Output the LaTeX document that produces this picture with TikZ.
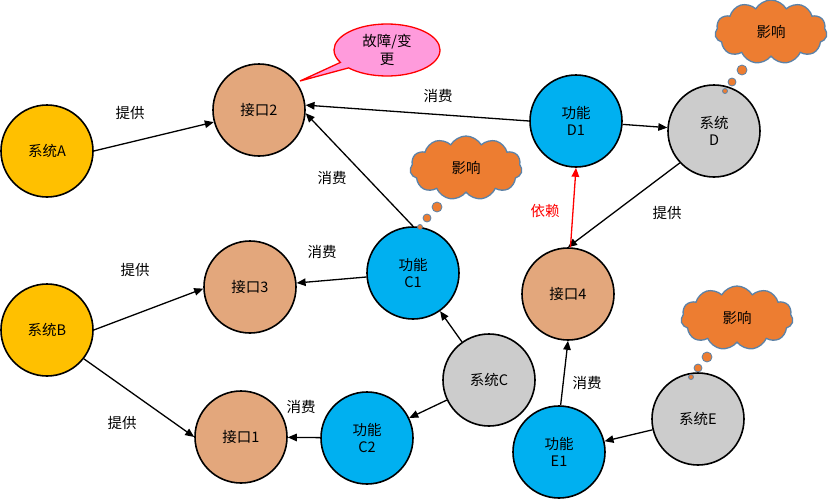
\documentclass[tikz,border=0pt]{standalone}
\usepackage{fontspec}
\setmainfont{Noto Sans CJK SC}
\usetikzlibrary{arrows.meta,shapes.symbols,shapes.callouts}
\definecolor{sysY}{HTML}{FFC000}
\definecolor{sysG}{HTML}{CCCCCC}
\definecolor{funB}{HTML}{00B0F0}
\definecolor{ifc}{HTML}{E3A77C}
\definecolor{cloudO}{HTML}{ED7D31}
\definecolor{cloudE}{HTML}{5B82A8}
\definecolor{pinkF}{HTML}{FF9BDC}
\tikzset{
  base/.style={circle,draw=black,line width=1.6pt,minimum size=92pt,inner sep=0pt,align=center,font=\fontsize{14.5}{17.5}\selectfont},
  sysy/.style={base,fill=sysY},
  sysg/.style={base,fill=sysG},
  func/.style={base,fill=funB},
  iface/.style={base,fill=ifc},
  lbl/.style={font=\fontsize{14.5}{17.5}\selectfont,inner sep=0pt},
  conn/.style={line width=1.3pt,-{Triangle[length=9pt,width=7.5pt]}},
  thought/.style={cloud,cloud puffs=11,cloud puff arc=120,cloud ignores aspect,draw=cloudE,fill=cloudO,line width=1.3pt,minimum width=112pt,minimum height=64pt,inner sep=0pt,font=\fontsize{14.5}{17.5}\selectfont},
  bub/.style={circle,draw=cloudE,fill=cloudO,line width=0.8pt,inner sep=0pt}
}
\begin{document}
\begin{tikzpicture}[x=1pt,y=-1pt]
\useasboundingbox (0,0) rectangle (830,499);
% nodes
\node[sysy] (sa) at (47,151) {系统A};
\node[sysy] (sb) at (47,330) {系统B};
\node[iface] (j2) at (259,110) {接口2};
\node[iface] (j3) at (250,287) {接口3};
\node[iface] (j1) at (241,437) {接口1};
\node[iface] (j4) at (568,294) {接口4};
\node[func] (d1) at (576,121) {功能\\D1};
\node[func] (c1) at (413,273) {功能\\C1};
\node[func] (c2) at (367,438) {功能\\C2};
\node[func] (e1) at (559,452) {功能\\E1};
\node[sysg] (sd) at (714,131) {系统\\D};
\node[sysg] (sc) at (489,380) {系统C};
\node[sysg] (se) at (698,419) {系统E};
% callout
\node[ellipse callout,draw=red,line width=1.3pt,fill=pinkF,minimum width=106pt,minimum height=52pt,inner sep=0pt,align=center,
  font=\fontsize{14.5}{17.5}\selectfont,callout absolute pointer={(300,81)}] (fault) at (387,50) {故障/变\\更};
% clouds
\node[thought] (cd) at (771,32) {影响};
\node[thought] (cc) at (466,168) {影响};
\node[thought] (ce) at (737,318) {影响};
\node[bub,minimum size=10pt] (bd1) at (742,70) {};
\node[bub,minimum size=8pt] (bd2) at (732,82) {};
\node[bub,minimum size=5pt] (bd3) at (725,91) {};
\node[bub,minimum size=10pt] (bc1) at (437,207) {};
\node[bub,minimum size=8pt] (bc2) at (427,218) {};
\node[bub,minimum size=5pt] (bc3) at (420,227) {};
\node[bub,minimum size=10pt] (be1) at (707,357) {};
\node[bub,minimum size=8pt] (be2) at (698,368) {};
\node[bub,minimum size=5pt] (be3) at (691,377) {};
% connectors
\draw[conn] (sa.east) -- (j2.195);
\draw[conn] (sb.east) -- (j3.182);
\draw[conn] (sb.-38) -- (j1.west);
\draw[conn] (d1.west) -- (j2.6);
\draw[conn] (c1.north) -- (j2.-4);
\draw[conn] (c1) -- (j3);
\draw[conn] (d1) -- (sd);
\draw[conn] (sd.-137) -- (j4.north);
\draw[line width=1.3pt,red,-{Triangle[length=9pt,width=7.5pt]}] (j4.87) -- (d1.south);
\draw[conn] (sc) -- (c1);
\draw[conn] (sc) -- (c2);
\draw[conn] (c2) -- (j1);
\draw[conn] (e1.88) -- (j4.south);
\draw[conn] (se) -- (e1);
% labels
\node[lbl] (l1) at (130,113) {提供};
\node[lbl] (l2) at (135,270) {提供};
\node[lbl] (l3) at (122,423) {提供};
\node[lbl] (l4) at (438,96) {消费};
\node[lbl] (l5) at (332,178) {消费};
\node[lbl] (l6) at (322,252) {消费};
\node[lbl] (l7) at (301,407) {消费};
\node[lbl] (l8) at (587,383) {消费};
\node[lbl,text=red] (l9) at (545,211) {依赖};
\node[lbl] (l10) at (667,213) {提供};
\end{tikzpicture}
\end{document}
